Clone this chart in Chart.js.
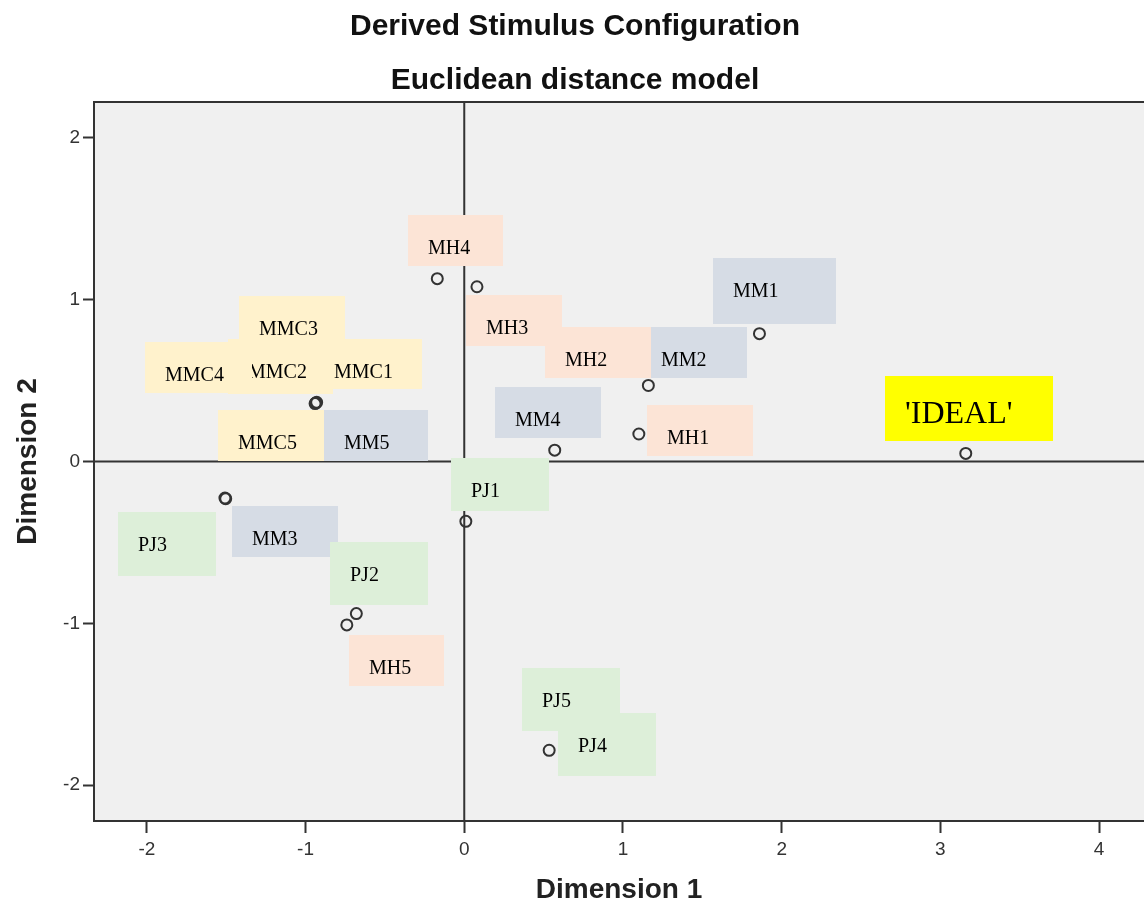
<!DOCTYPE html>
<html>
<head>
<meta charset="utf-8">
<script src="https://cdn.jsdelivr.net/npm/chart.js@4/dist/chart.umd.min.js"></script>
<style>
  html, body { margin: 0; padding: 0; background: #ffffff; }
  #wrap { width: 1144px; height: 904px; position: relative; }
</style>
</head>
<body>
<div id="wrap"><canvas id="c"></canvas></div>
<script>
// ---- data ----
const stimulusNames = ['MH4', 'MH3', 'MM1', 'MH2/MM2', 'MH1', 'MM4', "'IDEAL'",
  'MMC1', 'MMC2', 'MMC3', 'PJ1', 'MM3', 'PJ3', 'PJ2', 'MH5', 'PJ4/PJ5'];
const dim1 = [-0.17, 0.08, 1.86, 1.16, 1.10, 0.57, 3.16,
  -0.935, -0.93, -0.94, 0.01, -1.508, -1.503, -0.68, -0.74, 0.535];
const dim2 = [1.13, 1.08, 0.79, 0.47, 0.17, 0.07, 0.05,
  0.362, 0.366, 0.358, -0.37, -0.226, -0.230, -0.94, -1.01, -1.785];
const xTicks = [-2, -1, 0, 1, 2, 3, 4];
const yTicks = [-2, -1, 0, 1, 2];
const chartTitle = 'Derived Stimulus Configuration';
const chartSubtitle = 'Euclidean distance model';
const xTitle = 'Dimension 1';
const yTitle = 'Dimension 2';

// ---- label annotations (box top-left in data units, size in px) ----
const groupColors = { MH: '#FCE4D6', MM: '#D6DCE5', MMC: '#FFF2CC', PJ: '#DDEFD9', IDEAL: '#FFFF00' };
const labelBoxes = [
  { text: 'MMC3', group: 'MMC', x: -1.420, y: 1.023, w: 106, h: 52 },
  { text: 'MMC2', group: 'MMC', x: -1.490, y: 0.757, w: 105, h: 55 },
  { text: 'MMC1', group: 'MMC', x: -0.928, y: 0.757, w: 105, h: 50, tx: 17 },
  { text: 'MMC4', group: 'MMC', x: -2.012, y: 0.739, w: 107, h: 51 },
  { text: 'MMC5', group: 'MMC', x: -1.552, y: 0.318, w: 106, h: 51 },
  { text: 'MM5',  group: 'MM',  x: -0.884, y: 0.318, w: 104, h: 51 },
  { text: 'MH4',  group: 'MH',  x: -0.355, y: 1.524, w: 95,  h: 51 },
  { text: 'MH3',  group: 'MH',  x: 0.011,  y: 1.029, w: 96,  h: 51 },
  { text: 'MM2',  group: 'MM',  x: 1.112,  y: 0.832, w: 106, h: 51 },
  { text: 'MH2',  group: 'MH',  x: 0.508,  y: 0.832, w: 106, h: 51 },
  { text: 'MM1',  group: 'MM',  x: 1.566,  y: 1.258, w: 123, h: 66 },
  { text: 'MM4',  group: 'MM',  x: 0.193,  y: 0.461, w: 106, h: 51 },
  { text: 'MH1',  group: 'MH',  x: 1.150,  y: 0.349, w: 106, h: 51 },
  { text: 'PJ1',  group: 'PJ',  x: -0.084, y: 0.022, w: 98,  h: 53 },
  { text: 'PJ3',  group: 'PJ',  x: -2.182, y: -0.312, w: 98, h: 64 },
  { text: 'MM3',  group: 'MM',  x: -1.464, y: -0.275, w: 106, h: 51 },
  { text: 'PJ2',  group: 'PJ',  x: -0.847, y: -0.498, w: 98, h: 63 },
  { text: 'MH5',  group: 'MH',  x: -0.727, y: -1.073, w: 95, h: 51 },
  { text: 'PJ5',  group: 'PJ',  x: 0.363,  y: -1.277, w: 98, h: 63 },
  { text: 'PJ4',  group: 'PJ',  x: 0.590,  y: -1.555, w: 98, h: 63 },
  { text: "'IDEAL'", group: 'IDEAL', x: 2.649, y: 0.529, w: 168, h: 65, size: 32, ty: 47 }
];

const points = dim1.map((v, i) => ({ x: v, y: dim2[i], name: stimulusNames[i] }));

const decorPlugin = {
  id: 'decor',
  beforeDraw(chart) {
    const { ctx, chartArea: a } = chart;
    ctx.save();
    ctx.fillStyle = '#F0F0F0';
    ctx.fillRect(a.left, a.top, a.right - a.left, a.bottom - a.top);
    ctx.restore();
  },
  beforeDatasetsDraw(chart) {
    const { ctx, chartArea: a, scales } = chart;
    const x0 = scales.x.getPixelForValue(0);
    const y0 = scales.y.getPixelForValue(0);
    ctx.save();
    ctx.strokeStyle = '#333333';
    ctx.lineWidth = 2;
    ctx.beginPath();
    ctx.moveTo(x0, a.top); ctx.lineTo(x0, a.bottom);
    ctx.moveTo(a.left, y0); ctx.lineTo(a.right, y0);
    ctx.moveTo(a.left - 1, a.top); ctx.lineTo(a.right, a.top);
    ctx.stroke();
    ctx.restore();
  },
  afterDatasetsDraw(chart) {
    const { ctx, scales } = chart;
    ctx.save();
    labelBoxes.forEach(b => {
      const px = Math.round(scales.x.getPixelForValue(b.x));
      const py = Math.round(scales.y.getPixelForValue(b.y));
      ctx.fillStyle = groupColors[b.group];
      ctx.fillRect(px, py, b.w, b.h);
      ctx.fillStyle = '#000000';
      ctx.font = (b.size || 20) + 'px "Liberation Serif", "Times New Roman", serif';
      ctx.textAlign = 'left';
      ctx.textBaseline = 'alphabetic';
      ctx.fillText(b.text, px + (b.tx || 20), py + (b.ty || 39));
    });
    ctx.restore();
  },
  afterDraw(chart) {
    const { ctx } = chart;
    ctx.save();
    ctx.fillStyle = '#111111';
    ctx.textAlign = 'center';
    ctx.textBaseline = 'alphabetic';
    ctx.font = 'bold 30px "Liberation Sans", Arial, sans-serif';
    ctx.fillText(chartTitle, 575, 35);
    ctx.fillText(chartSubtitle, 575, 89);
    ctx.restore();
  }
};

new Chart(document.getElementById('c'), {
  type: 'scatter',
  data: {
    datasets: [{
      label: 'Stimuli',
      data: points,
      pointStyle: 'circle',
      pointRadius: 5.5,
      pointHoverRadius: 5.5,
      borderWidth: 2,
      borderColor: '#333333',
      backgroundColor: 'rgba(0,0,0,0)',
      clip: false
    }]
  },
  options: {
    responsive: true,
    maintainAspectRatio: false,
    animation: false,
    layout: { autoPadding: false, padding: { top: 102, left: 0, right: 0, bottom: 0 } },
    plugins: {
      legend: { display: false },
      tooltip: { enabled: false },
      title: { display: false }
    },
    scales: {
      x: {
        type: 'linear',
        min: -2.333,
        max: 4.283,
        afterBuildTicks(scale) { scale.ticks = xTicks.map(v => ({ value: v })); },
        afterFit(scale) { scale.height = 83; scale.paddingLeft = 0; scale.paddingRight = 0; },
        ticks: {
          color: '#333333',
          font: { size: 19, family: '"Liberation Sans", Arial, sans-serif' },
          padding: 5,
          maxRotation: 0,
          callback: v => String(v)
        },
        grid: { drawOnChartArea: false, drawTicks: true, tickLength: 12, tickWidth: 2, tickColor: '#333333' },
        border: { display: true, color: '#333333', width: 2 },
        title: {
          display: true, text: xTitle, color: '#222222',
          font: { size: 28, weight: 'bold', family: '"Liberation Sans", Arial, sans-serif', lineHeight: 1 },
          padding: { top: 0, bottom: 0 }
        }
      },
      y: {
        type: 'linear',
        min: -2.222,
        max: 2.222,
        afterBuildTicks(scale) { scale.ticks = yTicks.map(v => ({ value: v })); },
        afterFit(scale) { scale.width = 94; scale.paddingTop = 0; scale.paddingBottom = 0; },
        ticks: {
          color: '#333333',
          font: { size: 19, family: '"Liberation Sans", Arial, sans-serif' },
          padding: 3,
          callback: v => String(v)
        },
        grid: { drawOnChartArea: false, drawTicks: true, tickLength: 11, tickWidth: 2, tickColor: '#333333' },
        border: { display: true, color: '#333333', width: 2 },
        title: {
          display: true, text: yTitle, color: '#222222',
          font: { size: 28, weight: 'bold', family: '"Liberation Sans", Arial, sans-serif', lineHeight: 1 },
          padding: { top: 14, bottom: 0 }
        }
      }
    }
  },
  plugins: [decorPlugin]
});
</script>
</body>
</html>
